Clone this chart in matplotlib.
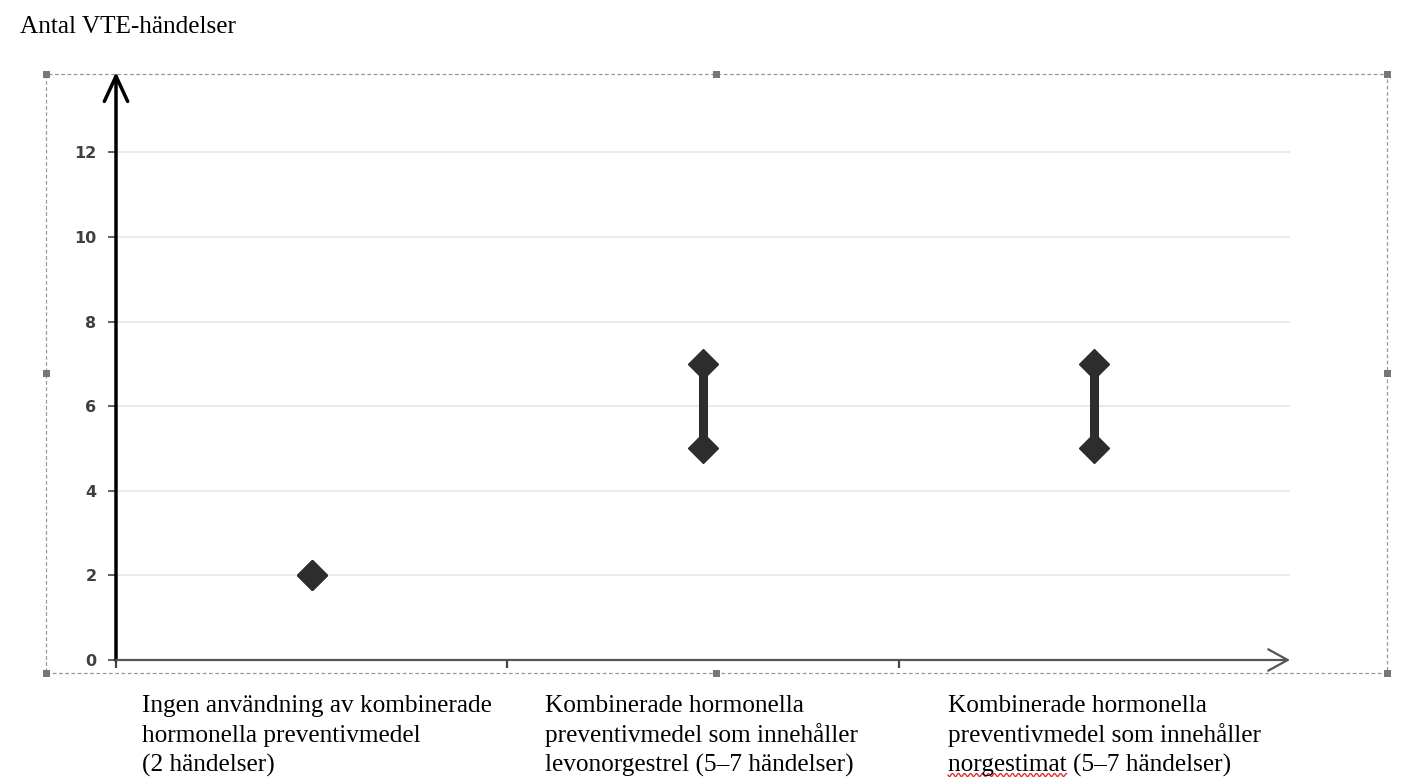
import numpy as np
import matplotlib.pyplot as plt
from matplotlib.patches import Rectangle

# data
categories = [
    ["Ingen användning av kombinerade", "hormonella preventivmedel", "(2 händelser)"],
    ["Kombinerade hormonella", "preventivmedel som innehåller", "levonorgestrel (5–7 händelser)"],
    ["Kombinerade hormonella", "preventivmedel som innehåller", "norgestimat (5–7 händelser)"],
]
low = [2, 5, 5]
high = [2, 7, 7]
yticks = [0, 2, 4, 6, 8, 10, 12]
title = "Antal VTE-händelser"

W, H = 1413, 784
fig = plt.figure(figsize=(W / 100, H / 100), dpi=100)

def fx(px):
    return px / W

def fy(py):
    return 1 - py / H

ax = fig.add_axes([fx(116), fy(660), fx(1290) - fx(116), fy(72) - fy(660)])
ax.set_xlim(0, 3)
ax.set_ylim(0, 13.9)

# gridlines
for t in yticks[1:]:
    ax.axhline(t, color='#e6e6e6', lw=1.2, zorder=0)

# range bars + diamonds
xs = np.arange(len(low)) + 0.5
for x, lo, hi in zip(xs, low, high):
    if hi > lo:
        ax.plot([x, x], [lo, hi], color='#2d2d2d', lw=6.5, solid_capstyle='butt', zorder=2)
    ax.plot([x, x], [lo, hi], ls='none', marker='D', ms=15, color='#2d2d2d', zorder=3)

for s in ax.spines.values():
    s.set_visible(False)

# axes with arrows
ax.annotate('', xy=(0, 1), xytext=(0, 0), xycoords='axes fraction',
            arrowprops=dict(arrowstyle='->,head_length=1.3,head_width=0.6',
                            mutation_scale=14, color='black', lw=2.5, shrinkA=0, shrinkB=0))
ax.annotate('', xy=(1, 0), xytext=(0, 0), xycoords='axes fraction',
            arrowprops=dict(arrowstyle='->,head_length=1.0,head_width=0.55',
                            mutation_scale=14, color='#555555', lw=1.6, shrinkA=0, shrinkB=0))

ax.set_yticks(yticks)
ax.set_yticklabels([str(t) for t in yticks], fontfamily='DejaVu Sans', fontsize=11.5,
                   fontweight='bold', color='#404040')
ax.tick_params(axis='y', length=6, width=1.2, color='#444444', pad=8)
ax.set_xticks([0, 1, 2])
ax.set_xticklabels([])
ax.tick_params(axis='x', length=6, width=1.6, color='#444444')

# dashed frame with handles
fig.patches.append(Rectangle((fx(46), fy(673)), fx(1387) - fx(46), fy(74) - fy(673),
                             transform=fig.transFigure, fill=False, ec='#999999',
                             lw=0.9, ls=(0, (3, 2))))
for hx in [46, 716, 1387]:
    for hy in [74, 373, 673]:
        if hx == 716 and hy == 373:
            continue
        fig.patches.append(Rectangle((fx(hx - 3.5), fy(hy + 3.5)), fx(7), 7 / H,
                                     transform=fig.transFigure, color='#777777', lw=0))

serif = 'Liberation Serif'
fs = 18.2
fig.text(fx(20), fy(33), title, family=serif, fontsize=fs, va='baseline', ha='left')

label_x = [142, 545, 948]
baselines = [712, 742, 772]
for lx, lines in zip(label_x, categories):
    for by, line in zip(baselines, lines):
        fig.text(fx(lx), fy(by), line, family=serif, fontsize=fs, va='baseline', ha='left')

# spellcheck squiggle under "norgestimat"
fig.canvas.draw()
tmp = fig.text(fx(948), fy(772), "norgestimat", family=serif, fontsize=fs, va='baseline')
bb = tmp.get_window_extent(fig.canvas.get_renderer())
tmp.remove()
sx = np.linspace(bb.x0, bb.x1, 200)
sy = H - 775 - 1.5 * np.sin((sx - bb.x0) / 3.0 * np.pi)
fig.add_artist(plt.Line2D(sx / W, sy / H, transform=fig.transFigure, color='#e02020', lw=0.9))

fig.savefig('out.png', dpi=100)
